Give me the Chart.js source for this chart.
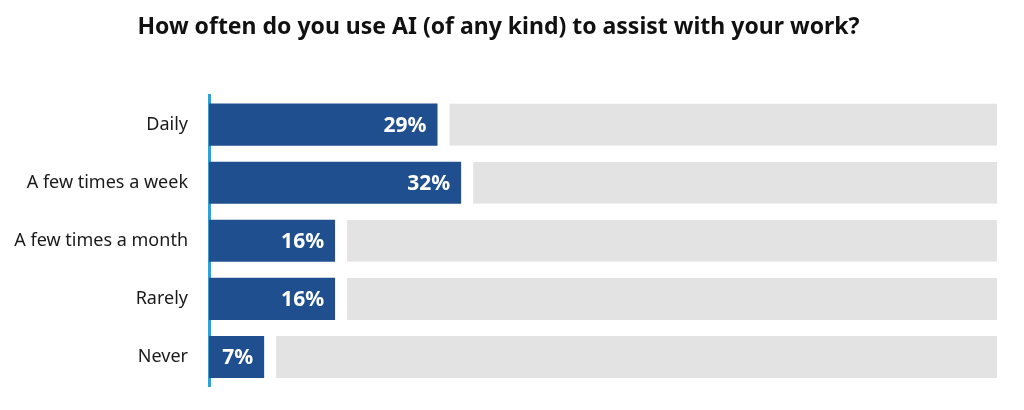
<!DOCTYPE html>
<html lang="en">
<head>
	<meta charset="UTF-8">
	<title>AI use at work</title>
	<script src="https://cdn.jsdelivr.net/npm/chart.js@4/dist/chart.umd.min.js"></script>
	<style>
		html, body { margin: 0; padding: 0; background: #fff; }
		.box { width: 1024px; height: 410px; }
	</style>
</head>
<body>
	<div class="box">
		<canvas id="myChart"></canvas>
	</div>
</body>
<script>
	// answers, top to bottom
	var answers = ["Daily", "A few times a week", "A few times a month", "Rarely", "Never"];
	// share of respondents (%)
	var shares = [29, 32, 16, 16, 7];
	var total = 100;

	// grey track = what is left up to 100%
	var rest = [];
	for (var i = 0; i < shares.length; i++) {
		rest.push(total - shares[i]);
	}

	// white % labels inside the blue bars
	var barLabels = {
		id: "barLabels",
		afterDatasetsDraw: function(chart) {
			var ctx = chart.ctx;
			var meta = chart.getDatasetMeta(0);
			ctx.save();
			ctx.fillStyle = "#fff";
			ctx.font = "bold 21px 'Noto Sans'";
			ctx.textAlign = "right";
			ctx.textBaseline = "middle";
			meta.data.forEach(function(bar, i) {
				ctx.fillText(shares[i] + "%", bar.x - 11, bar.y + 1);
			});
			ctx.restore();
		}
	};

	var ctx = document.getElementById("myChart");
	var myChart = new Chart(ctx, {
		type: "bar",
		data: {
			labels: answers,
			datasets: [{
				label: "Share",
				data: shares,
				backgroundColor: "#1f4f8f",
				borderWidth: 0,
				barPercentage: 0.724,
				categoryPercentage: 1
			}, {
				label: "Rest",
				data: rest,
				backgroundColor: "#e3e3e3",
				borderColor: "#fff",
				borderWidth: {left: 12, top: 0, right: 0, bottom: 0},
				borderSkipped: false,
				barPercentage: 0.724,
				categoryPercentage: 1
			}]
		},
		options: {
			indexAxis: "y",
			responsive: true,
			maintainAspectRatio: false,
			animation: false,
			layout: {
				padding: {left: 0, right: 27, top: 0, bottom: 24}
			},
			plugins: {
				legend: { display: false },
				tooltip: { enabled: false },
				title: {
					display: true,
					text: "How often do you use AI (of any kind) to assist with your work?",
					color: "#111",
					font: { family: "'Noto Sans'", size: 23, weight: "bold", lineHeight: 1.2 },
					padding: { top: 14, bottom: 54 }
				}
			},
			scales: {
				x: {
					stacked: true,
					min: 0,
					max: total,
					display: false
				},
				y: {
					stacked: true,
					grid: { display: false, drawTicks: false },
					border: { display: true, color: "#1da8e1", width: 3 },
					ticks: {
						color: "#1a1a1a",
						padding: 21,
						font: { family: "'Noto Sans'", size: 18 }
					},
					afterFit: function(scale) {
						scale.width = 209;
						scale.paddingTop = 0;
						scale.paddingBottom = 0;
					}
				}
			}
		},
		plugins: [barLabels]
	});
</script>
</html>
